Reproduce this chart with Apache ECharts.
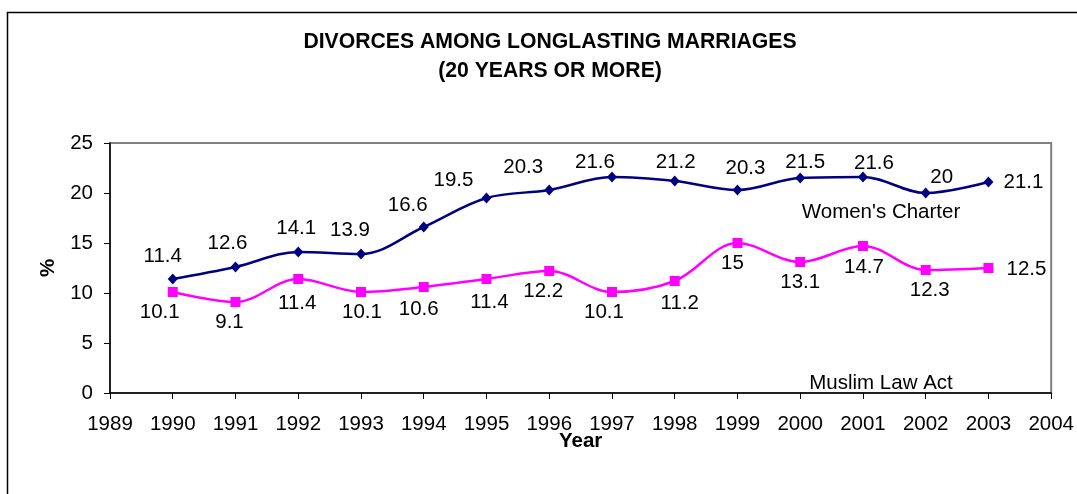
<!DOCTYPE html>
<html><head><meta charset="utf-8">
<script src="https://cdn.jsdelivr.net/npm/echarts@6/dist/echarts.min.js"></script>
<style>html,body{margin:0;padding:0;background:#fff}#c{width:1077px;height:494px}</style>
</head><body><div id="c"></div>
<script>
const years = [1990,1991,1992,1993,1994,1995,1996,1997,1998,1999,2000,2001,2002,2003];
const womensCharter = [11.4,12.6,14.1,13.9,16.6,19.5,20.3,21.6,21.2,20.3,21.5,21.6,20,21.1];
const muslimLawAct = [10.1,9.1,11.4,10.1,10.6,11.4,12.2,10.1,11.2,15,13.1,14.7,12.3,12.5];
const titleLines = ['DIVORCES AMONG LONGLASTING MARRIAGES','(20 YEARS OR MORE)'];

// label placement (pixel offsets of each value label from its point)
const womenLabelOffsets = [[-10,-23],[-8,-24],[-2,-24],[-11,-24],[-16,-22],[-33,-18],[-26,-23],[-17,-15],[1,-19],[8,-22],[5,-16],[11,-14],[16,-16],[35,0]];
const muslimLabelOffsets = [[-13,20],[-6,20],[-1,24],[1,20],[-5,22],[3,23],[-6,20],[-8,20],[5,22],[-5,20],[0,20],[1,21],[4,20],[38,1]];

const F = 'Arial, "Liberation Sans", sans-serif';
const FS = 20.5;
function pts(vals, offs){
  return years.map((y,i)=>({value:[y, vals[i]], label:{offset:offs[i]}}));
}
const chart = echarts.init(document.getElementById('c'), null, {renderer:'canvas'});
chart.setOption({
  animation:false,
  backgroundColor:'#fff',
  title:{text:titleLines.join('\n'), left:545, textAlign:'center', top:23,
    textStyle:{fontFamily:F, fontWeight:'bold', fontSize:21.2, lineHeight:29, color:'#000'}},
  graphic:[
    {type:'rect', shape:{x:7.5,y:12.5,width:1100,height:520}, style:{fill:'none', stroke:'#000', lineWidth:1.5}, z:-1},
    {type:'text', x:881, y:212, style:{text:"Women's Charter", fontFamily:F, fontSize:FS, fill:'#000', textAlign:'center', textVerticalAlign:'middle'}},
    {type:'text', x:881, y:383, style:{text:'Muslim Law Act', fontFamily:F, fontSize:FS, fill:'#000', textAlign:'center', textVerticalAlign:'middle'}}
  ],
  grid:{left:110, right:21, top:143, bottom:101, show:true, borderColor:'#808080', borderWidth:2, backgroundColor:'transparent'},
  xAxis:{type:'value', min:1989, max:2004, interval:1, name:'Year', nameLocation:'middle', nameGap:38, nameMoveOverlap:false,
    nameTextStyle:{fontFamily:F, fontWeight:'bold', fontSize:FS, color:'#000'},
    axisLine:{show:true, onZero:false, lineStyle:{color:'#000', width:1.5}},
    axisTick:{show:true, length:6, lineStyle:{color:'#000'}},
    axisLabel:{formatter:v=>String(v), fontFamily:F, fontSize:FS, color:'#000', margin:21},
    splitLine:{show:false}},
  yAxis:{type:'value', min:0, max:25, interval:5, name:'%', nameLocation:'middle', nameGap:51, nameRotate:90, nameMoveOverlap:false,
    nameTextStyle:{fontFamily:F, fontWeight:'bold', fontSize:FS, color:'#000'},
    axisLine:{show:true, lineStyle:{color:'#000', width:1.5}},
    axisTick:{show:true, length:6, lineStyle:{color:'#000'}},
    axisLabel:{fontFamily:F, fontSize:FS, color:'#000', margin:17},
    splitLine:{show:false}},
  series:[
    {name:"Women's Charter", type:'line', smooth:0.35, data:pts(womensCharter, womenLabelOffsets),
      symbol:'diamond', symbolSize:[10,11], itemStyle:{color:'#000080'}, lineStyle:{color:'#000080', width:2.5},
      label:{show:true, position:'inside', fontFamily:F, fontSize:FS, color:'#000', formatter:p=>String(p.value[1])}},
    {name:'Muslim Law Act', type:'line', smooth:0.35, data:pts(muslimLawAct, muslimLabelOffsets),
      symbol:'rect', symbolSize:10, itemStyle:{color:'#FF00FF'}, lineStyle:{color:'#FF00FF', width:2.5},
      label:{show:true, position:'inside', fontFamily:F, fontSize:FS, color:'#000', formatter:p=>String(p.value[1])}}
  ]
});
</script></body></html>
